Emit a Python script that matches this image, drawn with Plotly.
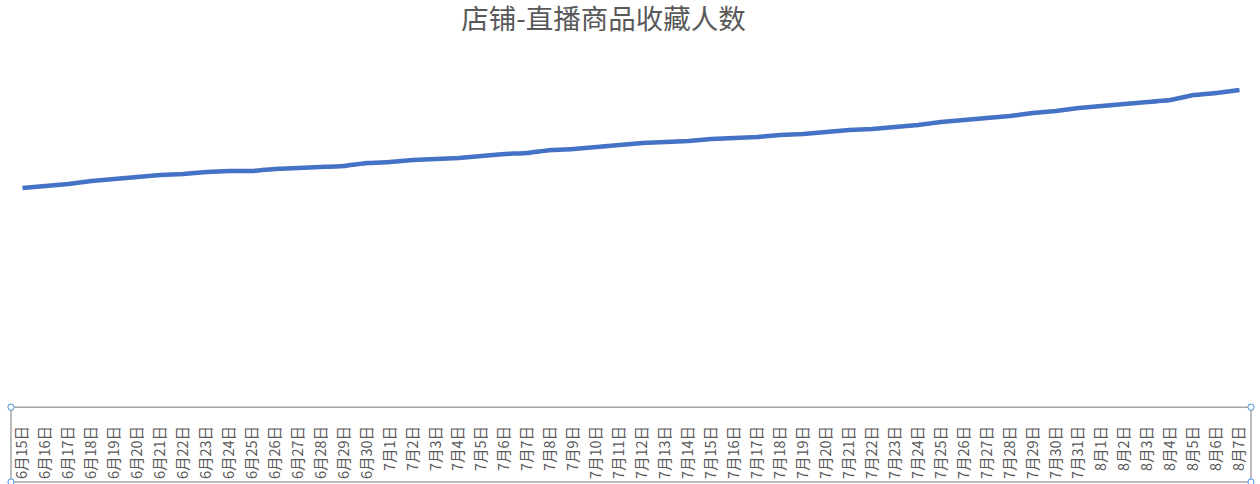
import plotly.graph_objects as go

dates = ([f"6月{d}日" for d in range(15, 31)] +
         [f"7月{d}日" for d in range(1, 32)] +
         [f"8月{d}日" for d in range(1, 8)])

favorites = [2120, 2140, 2160, 2190, 2210, 2230, 2250, 2260, 2280, 2290,
             2290, 2310, 2320, 2330, 2340, 2370, 2380, 2400, 2410, 2420,
             2440, 2460, 2470, 2500, 2510, 2530, 2550, 2570, 2580, 2590,
             2610, 2620, 2630, 2650, 2660, 2680, 2700, 2710, 2730, 2750,
             2780, 2800, 2820, 2840, 2870, 2890, 2920, 2940, 2960, 2980,
             3000, 3050, 3070, 3100]

fig = go.Figure()
fig.add_trace(go.Scatter(
    x=dates, y=favorites, mode="lines",
    line=dict(color="#4472C4", width=4.5, shape="spline", smoothing=0.3),
    hoverinfo="x+y", showlegend=False,
))

fig.update_layout(
    width=1260, height=484,
    margin=dict(l=11, r=9, t=40, b=84, autoexpand=False),
    paper_bgcolor="white", plot_bgcolor="white",
    title=dict(text="店铺-直播商品收藏人数", x=0.479, xanchor="center",
               y=0.9607, yanchor="middle", automargin=False,
               font=dict(family="Noto Sans CJK SC", size=27.5, color="#595959")),
    xaxis=dict(type="category", tickangle=-90, showgrid=False, showline=False,
               range=[-0.5, len(dates) - 0.5],
               ticks="", ticklen=0, automargin=False, ticklabelstandoff=22,
               tickfont=dict(family="Noto Sans CJK SC", size=14.5, color="#595959")),
    yaxis=dict(range=[0, 3600], visible=False, showgrid=False, automargin=False),
)

# selection frame around the category labels
fig.add_shape(type="rect", xref="paper", yref="paper",
              x0=0, x1=1, y0=-0.228, y1=-0.02,
              line=dict(color="#A6A6A6", width=1.5))
for cx in (0, 1):
    for cy in (-0.228, -0.02):
        fig.add_shape(type="circle", xref="paper", yref="paper",
                      x0=cx - 0.0025, x1=cx + 0.0025, y0=cy - 0.009, y1=cy + 0.009,
                      line=dict(color="#4A90D9", width=1), fillcolor="white")

fig.write_html("out.html", config={"displayModeBar": False},
               post_script="document.body.style.margin='0';document.body.style.overflow='hidden';")
